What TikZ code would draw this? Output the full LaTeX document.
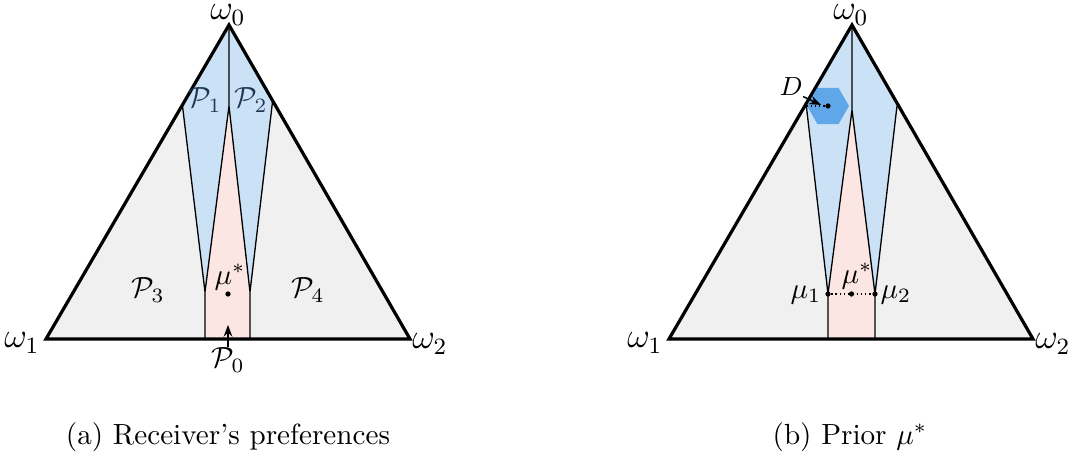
\documentclass[tikz,border=0pt]{standalone}
\usetikzlibrary{arrows.meta,shapes.geometric}
\definecolor{regblue}{RGB}{203,225,245}
\definecolor{regpink}{RGB}{252,230,227}
\definecolor{reggray}{RGB}{240,240,240}
\definecolor{hexblue}{RGB}{95,167,232}
\definecolor{lbl}{RGB}{35,55,85}
\begin{document}
\begin{tikzpicture}[x=0.343pt,y=-0.343pt,
  thinline/.style={line width=0.45pt},
  edge/.style={line width=1.1pt},
  dotpt/.style={circle,fill=black,inner sep=0pt,minimum size=1.8pt},
  lab/.style={inner sep=0pt},
  wlab/.style={inner sep=0pt,font=\large},
  arr/.style={line width=0.5pt,-{Stealth[length=4pt,width=3pt]}}]
\useasboundingbox (0,0) rectangle (1073,456);
% ---------- left triangle ----------
\coordinate (a0) at (229,25);
\coordinate (a1) at (46,339);
\coordinate (a2) at (410,339);
\coordinate (aL) at (182.5,106);
\coordinate (aR) at (272.5,102);
\coordinate (aP) at (229,106);
\coordinate (aK1) at (205,292);
\coordinate (aK2) at (250,292);
\coordinate (aB1) at (205,339);
\coordinate (aB2) at (250,339);
\fill[reggray] (a0)--(a1)--(a2)--cycle;
\fill[regblue] (a0)--(aL)--(aK1)--(aP)--(aK2)--(aR)--cycle;
\fill[regpink] (aP)--(aK1)--(aB1)--(aB2)--(aK2)--cycle;
\draw[thinline] (aL)--(aK1)--(aB1) (aR)--(aK2)--(aB2) (aK1)--(aP)--(aK2) (a0)--(aP);
\draw[edge] (a0)--(a1)--(a2)--cycle;
\node[wlab] (w0a) at (228,15) {$\omega_0$};
\node[wlab] (w1a) at (22,343) {$\omega_1$};
\node[wlab] (w2a) at (430,344) {$\omega_2$};
\node[lab,text=lbl] (p1) at (205,100) {$\mathcal{P}_1$};
\node[lab,text=lbl] (p2) at (251,100) {$\mathcal{P}_2$};
\node[lab] (p3) at (148,290) {$\mathcal{P}_3$};
\node[lab] (p4) at (308,290) {$\mathcal{P}_4$};
\node[lab] (mua) at (230,277) {$\mu^*$};
\node[dotpt] (mudota) at (228,294) {};
\node[lab] (p0) at (228,360) {$\mathcal{P}_0$};
\coordinate (p0tip) at (228,325);
\draw[arr] (p0.north) -- (p0tip);
% ---------- right triangle ----------
\coordinate (b0) at (852,25);
\coordinate (b1) at (669,339);
\coordinate (b2) at (1033,339);
\coordinate (bL) at (806,103);
\coordinate (bR) at (897,106);
\coordinate (bP) at (852,110);
\coordinate (bK1) at (828,294);
\coordinate (bK2) at (875,294);
\coordinate (bB1) at (828,339);
\coordinate (bB2) at (875,339);
\fill[reggray] (b0)--(b1)--(b2)--cycle;
\fill[regblue] (b0)--(bL)--(bK1)--(bP)--(bK2)--(bR)--cycle;
\fill[regpink] (bP)--(bK1)--(bB1)--(bB2)--(bK2)--cycle;
\draw[thinline] (bL)--(bK1)--(bB1) (bR)--(bK2)--(bB2) (bK1)--(bP)--(bK2) (b0)--(bP);
\draw[edge] (b0)--(b1)--(b2)--cycle;
\node[regular polygon,regular polygon sides=6,minimum size=14.4pt,inner sep=0pt,fill=hexblue] (hex) at (828,106) {};
\node[dotpt] (hexc) at (828,106) {};
\draw[thinline,densely dotted] (hex.west) -- (hexc);
\node[lab] (D) at (791,87) {\small $D$};
\coordinate (Dtip) at (821,105);
\draw[arr] (D.south east) -- (Dtip);
\node[wlab] (w0b) at (851,15) {$\omega_0$};
\node[wlab] (w1b) at (645,343) {$\omega_1$};
\node[wlab] (w2b) at (1053,344) {$\omega_2$};
\node[dotpt] (mu1) at (bK1) {};
\node[dotpt] (mu2) at (bK2) {};
\node[dotpt] (mub) at (851.5,294) {};
\draw[thinline,densely dotted] (mu1) -- (mu2);
\node[lab] (mu1l) at (806,295) {$\mu_1$};
\node[lab] (mu2l) at (896,295) {$\mu_2$};
\node[lab] (mubl) at (857,276) {$\mu^*$};
% ---------- captions ----------
\node[lab] (capa) at (228,437) {(a) Receiver's preferences};
\node[lab] (capb) at (850,437) {(b) Prior $\mu^*$};
\end{tikzpicture}
\end{document}
